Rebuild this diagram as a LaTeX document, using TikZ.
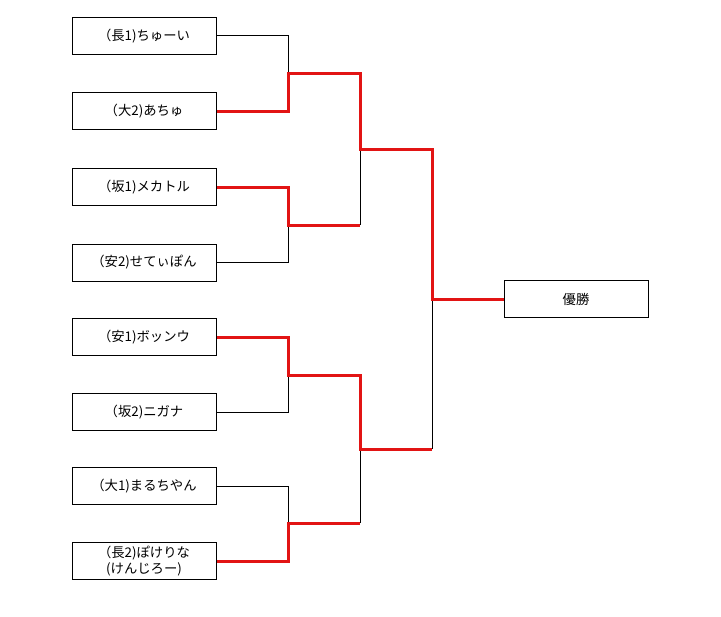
\documentclass[tikz,border=0pt]{standalone}
\usepackage{fontspec}
\setmainfont{Noto Sans CJK JP}
\definecolor{winred}{RGB}{226,20,20}
\begin{document}
\begin{tikzpicture}[x=0.75pt,y=-0.75pt,
  team/.style={draw,line width=0.75pt,minimum width=108pt,minimum height=27.75pt,inner sep=0pt,
    font=\fontsize{10pt}{12pt}\selectfont,align=center},
  lose/.style={line width=0.75pt,black},
  win/.style={line width=2.25pt,winred}]
\useasboundingbox (0,0) rectangle (721,617);
\node[team] (t1) at (144,36) {（長1)ちゅーい};
\node[team] (t2) at (144,111) {（大2)あちゅ};
\node[team] (t3) at (144,187) {（坂1)メカトル};
\node[team] (t4) at (144,262.5) {（安2)せてぃぽん};
\node[team] (t5) at (144,337) {（安1)ボッンウ};
\node[team] (t6) at (144,412) {（坂2)ニガナ};
\node[team] (t7) at (144,486) {（大1)まるちやん};
\node[team] (t8) at (144,561) {（長2)ぽけりな\\(けんじろー)};
\node[team] (w) at (576,299) {優勝};
\coordinate (a1) at (288,73.5);
\coordinate (a2) at (288,225);
\coordinate (a3) at (288,375);
\coordinate (a4) at (288,523);
\coordinate (b1) at (360,149);
\coordinate (b2) at (360,449);
\coordinate (c) at (432,299);
% losing paths
\draw[lose] (t1.east) -| (a1);
\draw[lose] (t4.east) -| (a2);
\draw[lose] (t6.east) -| (a3);
\draw[lose] (t7.east) -| (a4);
\draw[lose] (a2 -| b1) -- (b1);
\draw[lose] (a4 -| b2) -- (b2);
\draw[lose] (b2 -| c) -- (c);
% winning paths
\draw[win] (t2.east) -| (a1) -| (b1) -| (c) -- (w.west);
\draw[win] (t3.east) -| (a2) -- (a2 -| b1);
\draw[win] (t5.east) -| (a3) -| (b2) -- (b2 -| c);
\draw[win] (t8.east) -| (a4) -- (a4 -| b2);
\end{tikzpicture}
\end{document}
